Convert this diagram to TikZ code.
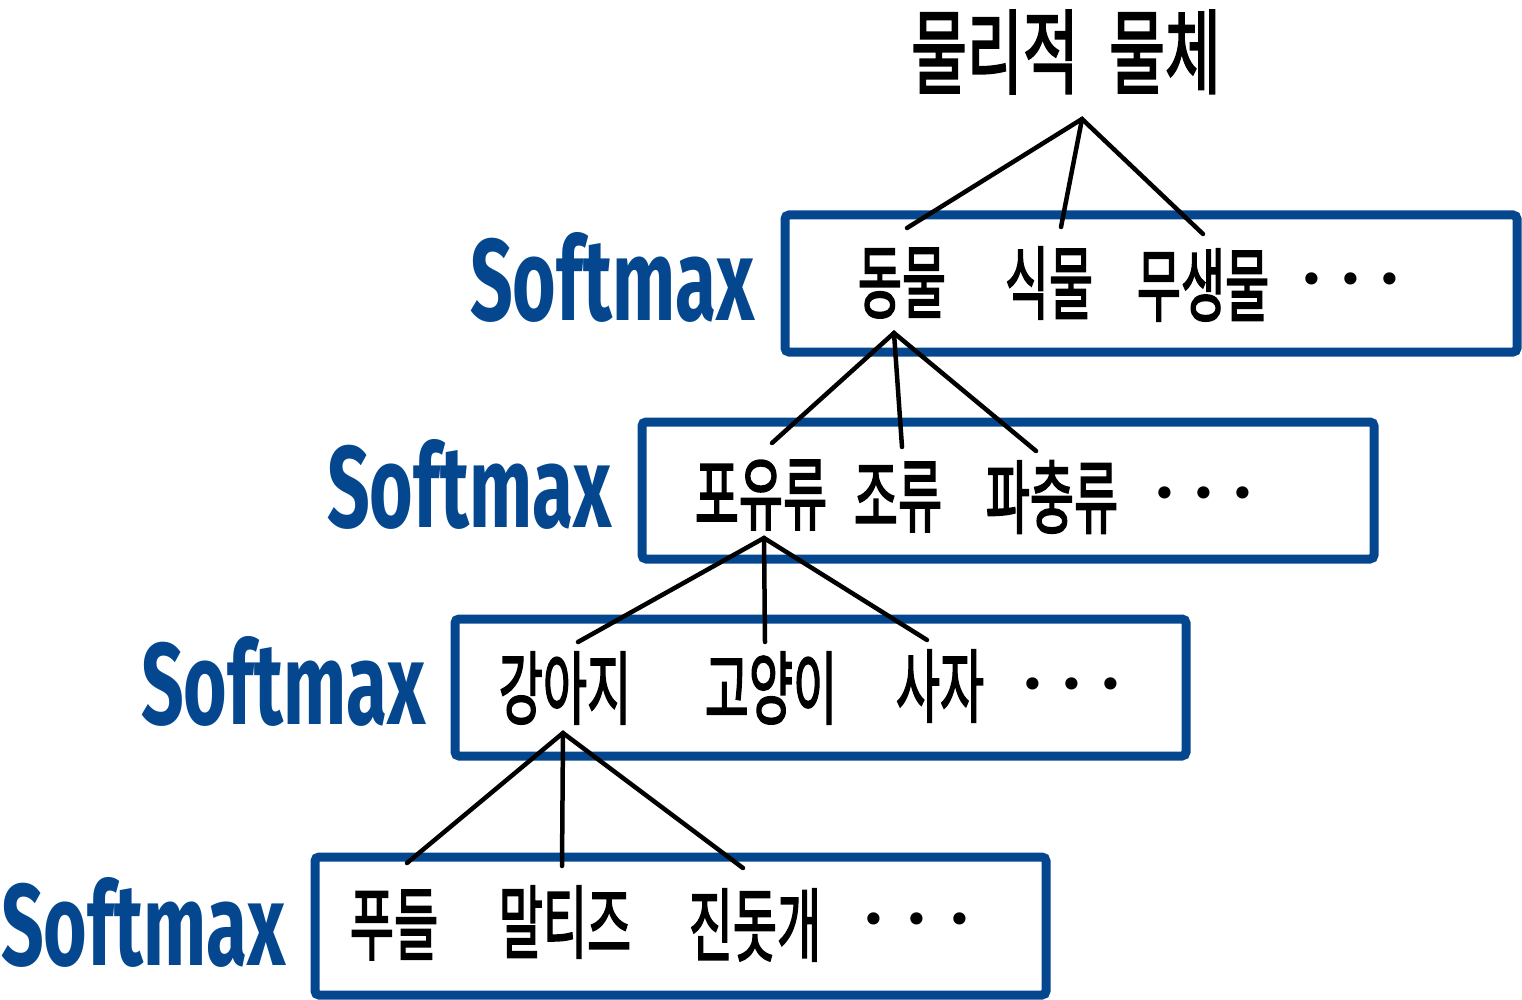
\documentclass[tikz,border=0pt]{standalone}
\usepackage{fontspec}
\usepackage{graphicx}
\newfontfamily\kr{Noto Sans CJK KR}[FakeBold=2.5]
\newfontfamily\dotf{DejaVu Sans}
\setsansfont{Fira Sans}
\definecolor{boxblue}{HTML}{04478F}
\newcommand\kw[1]{\scalebox{0.6}[1]{#1}}
\newcommand\smxtext{\resizebox{284pt}{88pt}{\sffamily\bfseries Softmax}}
\begin{document}
\begin{tikzpicture}[x=1pt,y=-1pt,
  catbox/.style={draw=boxblue, line width=9pt, rounded corners=4pt},
  word/.style={inner sep=0pt, font=\kr\fontsize{80}{80}\selectfont},
  bigword/.style={inner sep=0pt, font=\kr\fontsize{92}{92}\selectfont},
  link/.style={line width=4.5pt, line cap=round},
  smx/.style={inner sep=0pt, text=boxblue, anchor=south west},
  ell/.style={inner sep=0pt, font=\dotf\fontsize{42}{42}\selectfont}]
\useasboundingbox (0,0) rectangle (1522,1000);

% boxes
\draw[catbox] (785,215) rectangle (1517,352);
\draw[catbox] (642,422) rectangle (1374,559);
\draw[catbox] (455,619) rectangle (1186,756);
\draw[catbox] (315,857) rectangle (1046,995);

% softmax labels
\node[smx] (s1) at (470,323) {\smxtext};
\node[smx] (s2) at (327,530) {\smxtext};
\node[smx] (s3) at (141,727) {\smxtext};
\node[smx] (s4) at (1,968) {\smxtext};

% words
\node[bigword] (root) at (1066,52) {\scalebox{0.66}[1]{물리적\hspace{0.5em}물체}};

\node[word] (a1) at (902,283) {\kw{동물}};
\node[word] (a2) at (1049,283) {\kw{식물}};
\node[word] (a3) at (1203,285) {\kw{무생물}};
\node[ell] (a4) at (1351,284) {•\hspace{14pt}•\hspace{14pt}•};

\node[word] (b1) at (761,495) {\kw{포유류}};
\node[word] (b2) at (898,497) {\kw{조류}};
\node[word] (b3) at (1052,497) {\kw{파충류}};
\node[ell] (b4) at (1204,498) {•\hspace{14pt}•\hspace{14pt}•};

\node[word] (c1) at (565,688) {\kw{강아지}};
\node[word] (c2) at (771,688) {\kw{고양이}};
\node[word] (c3) at (940,686) {\kw{사자}};
\node[ell] (c4) at (1072,689) {•\hspace{14pt}•\hspace{14pt}•};

\node[word] (d1) at (394,925) {\kw{푸들}};
\node[word] (d2) at (565,922) {\kw{말티즈}};
\node[word] (d3) at (755,925) {\kw{진돗개}};
\node[ell] (d4) at (917,924) {•\hspace{18pt}•\hspace{18pt}•};

% connector points
\coordinate (p0) at (1082,119);
\coordinate (p0a) at (907,228);
\coordinate (p0b) at (1061,227);
\coordinate (p0c) at (1203,234);
\coordinate (p1) at (894,333);
\coordinate (p1a) at (772,443);
\coordinate (p1b) at (902,447);
\coordinate (p1c) at (1036,451);
\coordinate (p2) at (764,538);
\coordinate (p2a) at (578,642);
\coordinate (p2b) at (765,642);
\coordinate (p2c) at (927,640);
\coordinate (p3) at (563,733);
\coordinate (p3a) at (407,863);
\coordinate (p3b) at (562,866);
\coordinate (p3c) at (743,868);

\draw[link] (p0a) -- (p0) -- (p0c);
\draw[link] (p0) -- (p0b);
\draw[link] (p1a) -- (p1) -- (p1c);
\draw[link] (p1) -- (p1b);
\draw[link] (p2a) -- (p2) -- (p2c);
\draw[link] (p2) -- (p2b);
\draw[link] (p3a) -- (p3) -- (p3c);
\draw[link] (p3) -- (p3b);
\end{tikzpicture}
\end{document}
